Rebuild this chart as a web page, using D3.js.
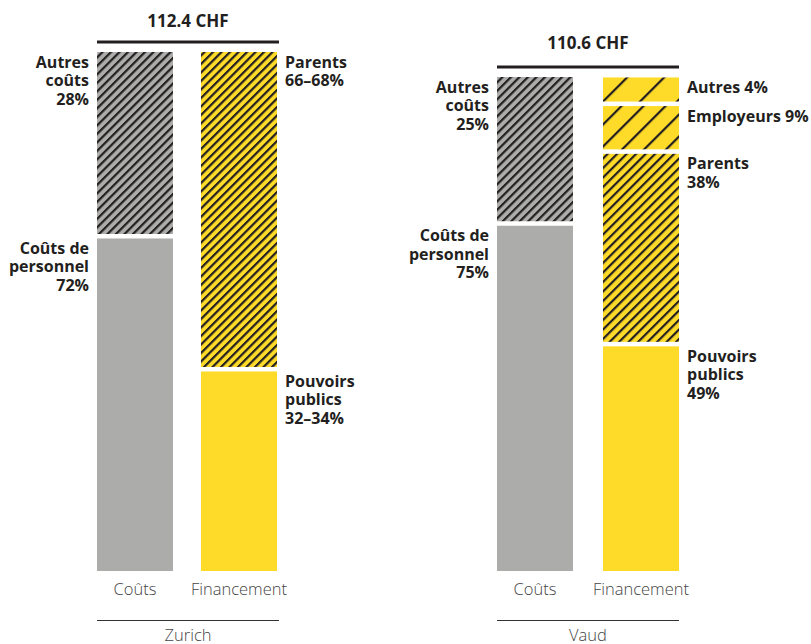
<!DOCTYPE html>
<html><head><meta charset="utf-8">
<script src="https://cdn.jsdelivr.net/npm/d3@7"></script>
<style>
body{margin:0;background:#fff;}
svg{display:block;}
.lbl{font-family:"Open Sans", sans-serif;font-weight:700;font-size:16px;fill:#231f20;}
.ttl{font-family:"Open Sans", sans-serif;font-weight:700;font-size:17px;fill:#231f20;}
.cat{font-family:"Open Sans", sans-serif;font-weight:300;font-size:16.5px;fill:#444;}
</style></head>
<body>
<svg id="chart" width="811" height="644"></svg>
<script>
// ---- data ----
const regions = ["Zurich", "Vaud"];
const totalLabels = ["112.4 CHF", "110.6 CHF"];
const totals = [112.4, 110.6];
const categories = ["Coûts", "Financement"];

// segments listed bottom to top (values in CHF)
const zurichCostNames = ["Coûts de personnel", "Autres coûts"];
const zurichCostLabels = [["Coûts de", "personnel", "72%"], ["Autres", "coûts", "28%"]];
const zurichCostValues = [72.5, 39.9];

const zurichFundNames = ["Pouvoirs publics", "Parents"];
const zurichFundLabels = [["Pouvoirs", "publics", "32–34%"], ["Parents", "66–68%"]];
const zurichFundValues = [43.7, 68.7];

const vaudCostNames = ["Coûts de personnel", "Autres coûts"];
const vaudCostLabels = [["Coûts de", "personnel", "75%"], ["Autres", "coûts", "25%"]];
const vaudCostValues = [77.8, 32.8];

const vaudFundNames = ["Pouvoirs publics", "Parents", "Employeurs", "Autres"];
const vaudFundLabels = [["Pouvoirs", "publics", "49%"], ["Parents", "38%"], ["Employeurs 9%"], ["Autres 4%"]];
const vaudFundValues = [50.8, 43.1, 10.7, 5.9];

// ---- styles ----
const GRAY = "#acacab", YELLOW = "#ffdb29", INK = "#231f20";
// fill style per region / segment: [base colour, horizontal hatch spacing (0 = solid)]
const styleOf = {
  "Zurich|Coûts de personnel": [GRAY, 0],
  "Zurich|Autres coûts": [GRAY, 8.5],
  "Zurich|Pouvoirs publics": [YELLOW, 0],
  "Zurich|Parents": [YELLOW, 8.5],
  "Vaud|Coûts de personnel": [GRAY, 0],
  "Vaud|Autres coûts": [GRAY, 8.5],
  "Vaud|Pouvoirs publics": [YELLOW, 0],
  "Vaud|Parents": [YELLOW, 9.5],
  "Vaud|Employeurs": [YELLOW, 22],
  "Vaud|Autres": [YELLOW, 37]
};

const svg = d3.select("#chart");
const defs = svg.append("defs");
let patId = 0;
function fillFor(key) {
  const [col, sp] = styleOf[key];
  if (!sp) return col;
  const id = "hatch" + (patId++);
  const d = sp / Math.SQRT2;
  const p = defs.append("pattern").attr("id", id).attr("patternUnits", "userSpaceOnUse")
    .attr("width", d).attr("height", d).attr("patternTransform", "rotate(45)");
  p.append("rect").attr("width", d).attr("height", d).attr("fill", col);
  p.append("rect").attr("x", 0).attr("width", 2.2).attr("height", d).attr("fill", INK);
  return `url(#${id})`;
}

const panels = [
  { region: "Zurich", x0: 97, span: 180, lineSpan: 182, top: 52, cost: [zurichCostNames, zurichCostLabels, zurichCostValues],
    fund: [zurichFundNames, zurichFundLabels, zurichFundValues], titleY: 27 },
  { region: "Vaud", x0: 497, span: 182, lineSpan: 182, top: 77, cost: [vaudCostNames, vaudCostLabels, vaudCostValues],
    fund: [vaudFundNames, vaudFundLabels, vaudFundValues], titleY: 49 }
];

const bottom = 571, gap = 4.5, lineH = 18.5, barW = 76;

panels.forEach((pn, i) => {
  const g = svg.append("g");
  const pad = (pn.span - 2 * barW) / (pn.span - barW);
  const x = d3.scaleBand().domain(categories).range([pn.x0, pn.x0 + pn.span]).paddingInner(pad).paddingOuter(0);
  const y = d3.scaleLinear().domain([0, totals[i]]).range([bottom, pn.top]);
  const bw = x.bandwidth();

  [pn.cost, pn.fund].forEach((grp, ci) => {
    const [names, labels, values] = grp;
    const cat = categories[ci];
    let cum = 0;
    const segs = values.map((v, k) => { const s = { name: names[k], lab: labels[k], y0: cum, y1: cum + v, k, n: values.length }; cum += v; return s; });
    segs.forEach(s => {
      const yTop = y(s.y1) + (s.k < s.n - 1 ? gap / 2 : 0);
      const yBot = y(s.y0) - (s.k > 0 ? gap / 2 : 0);
      g.append("rect").attr("x", x(cat)).attr("y", yTop).attr("width", bw).attr("height", yBot - yTop)
        .attr("fill", fillFor(pn.region + "|" + s.name));
      const left = ci === 0;
      const lx = left ? x(cat) - 8 : x(cat) + bw + 8;
      const t = g.append("text").attr("class", "lbl")
        .attr("text-anchor", left ? "end" : "start")
        .attr("x", lx).attr("y", yTop + 15.5);
      s.lab.forEach((ln, j) => t.append("tspan").attr("x", lx)
        .attr("dy", j === 0 ? 0 : lineH).text(ln));
    });
    g.append("text").attr("class", "cat").attr("text-anchor", "middle")
      .attr("x", x(cat) + bw / 2).attr("y", 595).text(cat);
  });

  const xL = pn.x0, xR = pn.x0 + pn.lineSpan;
  g.append("line").attr("x1", xL).attr("x2", xR).attr("y1", pn.top - 10).attr("y2", pn.top - 10)
    .attr("stroke", INK).attr("stroke-width", 3);
  g.append("text").attr("class", "ttl").attr("text-anchor", "middle").attr("x", (xL + xR) / 2)
    .attr("y", pn.titleY).text(totalLabels[i]);
  g.append("line").attr("x1", xL).attr("x2", xR).attr("y1", 620.5).attr("y2", 620.5)
    .attr("stroke", "#333").attr("stroke-width", 1);
  g.append("text").attr("class", "cat").attr("text-anchor", "middle").attr("x", (xL + xR) / 2)
    .attr("y", 641).text(regions[i]);
});
</script>
</body></html>
